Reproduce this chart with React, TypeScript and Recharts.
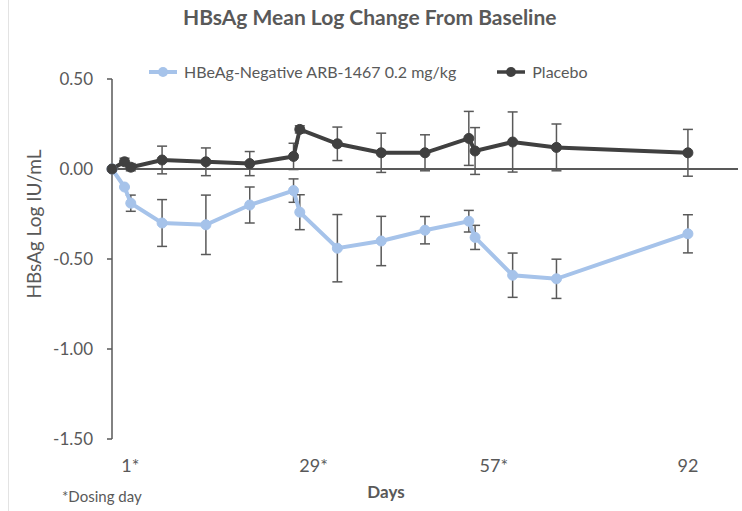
import React from "react"
import { LineChart, Line, XAxis, YAxis, ErrorBar, ReferenceLine } from "recharts"

const days = [0, 2, 3, 8, 15, 22, 29, 30, 36, 43, 50, 57, 58, 64, 71, 92]
const arbMean = [0, -0.1, -0.19, -0.3, -0.31, -0.2, -0.12, -0.24, -0.44, -0.4, -0.34, -0.29, -0.38, -0.59, -0.61, -0.36]
const arbErr = [0, 0, 0.045, 0.13, 0.165, 0.1, 0.065, 0.097, 0.187, 0.137, 0.076, 0.06, 0.067, 0.123, 0.109, 0.106]
const placeboMean = [0, 0.04, 0.01, 0.05, 0.04, 0.03, 0.07, 0.22, 0.14, 0.09, 0.09, 0.17, 0.1, 0.15, 0.12, 0.09]
const placeboErr = [0, 0.02, 0.02, 0.077, 0.077, 0.067, 0.073, 0.02, 0.093, 0.109, 0.1, 0.15, 0.13, 0.167, 0.13, 0.13]

const xTicks = [1, 29, 57, 92]
const xTickLabels = ["1*", "29*", "57*", "92"]
const yTicks = [-1.5, -1, -0.5, 0, 0.5]

const data = days.map((d, i) => ({
  day: d,
  arb: arbMean[i],
  arbErr: arbErr[i],
  placebo: placeboMean[i],
  placeboErr: placeboErr[i],
}))

const FONT = "Lato, 'Open Sans', sans-serif"
const TEXT = "#595959"
const BLUE = "#A6C3EA"
const DARK = "#404040"

// label nudges so the starred labels sit where the original put them
const tickShift = [12, 20, 25, 0]

function DayTick(props: any) {
  const { x, y, payload } = props
  const i = xTicks.indexOf(payload.value)
  return (
    <text x={x + tickShift[i]} y={y + 31} textAnchor="middle" fontSize={18} fill={TEXT} fontFamily={FONT}>
      {xTickLabels[i]}
    </text>
  )
}

function LegendItem({ color, label, width }: { color: string; label: string; width: number }) {
  return (
    <div style={{ display: "flex", alignItems: "center" }}>
      <svg width={30} height={12} style={{ marginRight: 6 }}>
        <line x1={1} y1={6} x2={29} y2={6} stroke={color} strokeWidth={width} />
        <circle cx={15} cy={6} r={5} fill={color} />
      </svg>
      <span>{label}</span>
    </div>
  )
}

export default function App() {
  return (
    <div style={{ position: "absolute", left: 0, top: 0, width: 742, height: 511, background: "#fff", fontFamily: FONT, color: TEXT }}>
      <div style={{ position: "absolute", left: 8, top: 0, width: 1, height: 511, background: "#E3E3E3" }} />
      <div style={{ position: "absolute", left: 183, top: 4, fontSize: 21, fontWeight: 700, whiteSpace: "nowrap" }}>
        HBsAg Mean Log Change From Baseline
      </div>
      <div style={{ position: "absolute", left: 148, top: 62, display: "flex", gap: 40, fontSize: 16, whiteSpace: "nowrap" }}>
        <LegendItem color={BLUE} label="HBeAg-Negative ARB-1467 0.2 mg/kg" width={4} />
        <LegendItem color={DARK} label="Placebo" width={3.5} />
      </div>
      <div style={{ position: "absolute", left: 33, top: 224, transform: "translate(-50%, -50%) rotate(-90deg)", fontSize: 19, whiteSpace: "nowrap" }}>
        HBsAg Log IU/mL
      </div>
      <div style={{ position: "absolute", left: 386, top: 481, transform: "translateX(-50%)", fontSize: 17, fontWeight: 700 }}>Days</div>
      <div style={{ position: "absolute", left: 62, top: 487, fontSize: 15, whiteSpace: "nowrap" }}>*Dosing day</div>
      <LineChart width={742} height={511} data={data} margin={{ top: 79, right: 4, bottom: 0, left: 0 }} style={{ position: "absolute", left: 0, top: 0 }}>
        <XAxis
          dataKey="day"
          type="number"
          domain={[0, 100]}
          ticks={xTicks}
          tick={<DayTick />}
          axisLine={false}
          tickLine={false}
          tickSize={0}
          height={72}
        />
        <YAxis
          type="number"
          domain={[-1.5, 0.5]}
          ticks={yTicks}
          width={112}
          tickFormatter={(v: number) => v.toFixed(2)}
          tick={{ fontSize: 17, fill: TEXT, fontFamily: FONT }}
          axisLine={{ stroke: TEXT, strokeWidth: 1.5 }}
          tickLine={{ stroke: TEXT, strokeWidth: 1.5 }}
          tickSize={5}
          tickMargin={14}
        />
        <ReferenceLine y={0} stroke={TEXT} strokeWidth={2} />
        <Line
          dataKey="arb"
          stroke={BLUE}
          strokeWidth={4}
          dot={{ r: 5, fill: BLUE, stroke: BLUE, strokeWidth: 1 }}
          isAnimationActive={false}
        >
          <ErrorBar dataKey="arbErr" width={5} stroke={TEXT} strokeWidth={1.5} direction="y" />
        </Line>
        <Line
          dataKey="placebo"
          stroke={DARK}
          strokeWidth={4}
          dot={{ r: 5, fill: DARK, stroke: DARK, strokeWidth: 1 }}
          isAnimationActive={false}
        >
          <ErrorBar dataKey="placeboErr" width={5} stroke={TEXT} strokeWidth={1.5} direction="y" />
        </Line>
      </LineChart>
    </div>
  )
}
